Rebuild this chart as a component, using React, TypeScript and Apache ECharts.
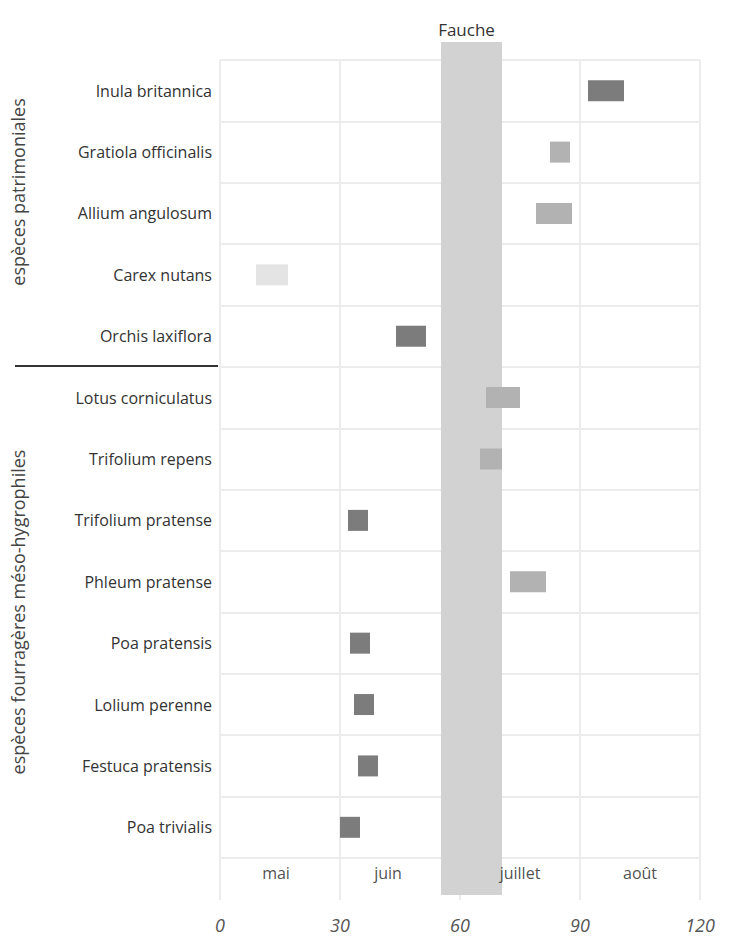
import React, { useEffect, useRef } from "react";
import * as echarts from "echarts";

const species = [
  "Inula britannica",
  "Gratiola officinalis",
  "Allium angulosum",
  "Carex nutans",
  "Orchis laxiflora",
  "Lotus corniculatus",
  "Trifolium repens",
  "Trifolium pratense",
  "Phleum pratense",
  "Poa pratensis",
  "Lolium perenne",
  "Festuca pratensis",
  "Poa trivialis",
];
const startDay = [92, 82.5, 79, 9, 44, 66.5, 65, 32, 72.5, 32.5, 33.5, 34.5, 30];
const spanDays = [9, 5, 9, 8, 7.5, 8.5, 5.5, 5, 9, 5, 5, 5, 5];
// intensity: 2 = dark, 1 = light, 0 = faint
const intensity = [2, 1, 1, 0, 2, 1, 1, 2, 1, 2, 2, 2, 2];
const months = ["mai", "juin", "juillet", "août"];
const monthPos = [14, 42, 75, 105];
const xTicks = [0, 30, 60, 90, 120];
const fauche = [55.25, 70.5];
const groups = ["espèces patrimoniales", "espèces fourragères méso-hygrophiles"];

const FONT = "'Open Sans', 'Noto Sans', sans-serif";
const shade = ["#e4e4e4", "#b2b2b2", "#7c7c7c"];

export default function App() {
  const ref = useRef<HTMLDivElement>(null);
  useEffect(() => {
    if (!ref.current) return;
    const chart = echarts.init(ref.current, null, { renderer: "svg" });
    const L = 220, W = 480;
    const gridLine = { show: true, lineStyle: { color: "#ececec", width: 2 } };
    chart.setOption({
      animation: false,
      backgroundColor: "#ffffff",
      grid: [
        { left: L, width: W, top: 60, height: 798 },
        { left: L, width: W, top: 858, height: 42 },
        { left: L, width: W, top: 42, height: 853 },
      ],
      xAxis: [
        {
          gridIndex: 0, type: "value", min: 0, max: 120, interval: 30,
          axisLabel: { show: false }, axisLine: { show: false }, axisTick: { show: false },
          splitLine: gridLine,
        },
        {
          gridIndex: 1, type: "value", min: 0, max: 120, interval: 30,
          axisLine: { show: false }, axisTick: { show: false },
          splitLine: gridLine,
          axisLabel: {
            show: true, margin: 16, color: "#555", fontSize: 18, fontStyle: "italic",
            fontFamily: FONT,
            formatter: (v: number) => (xTicks.includes(v) ? String(v) : ""),
          },
        },
        {
          gridIndex: 2, type: "value", min: 0, max: 120, show: false,
        },
      ],
      yAxis: [
        {
          gridIndex: 0, type: "category", data: species, inverse: true,
          axisLine: { show: false }, axisTick: { show: false },
          splitLine: gridLine,
          axisLabel: { color: "#333", fontSize: 16, margin: 8, fontFamily: FONT },
        },
        {
          gridIndex: 1, type: "category", data: ["mois"],
          axisLine: { show: false }, axisTick: { show: false },
          axisLabel: { show: false }, splitLine: { show: false },
        },
        { gridIndex: 2, type: "value", min: 0, max: 1, show: false },
      ],
      series: [
        {
          type: "custom",
          xAxisIndex: 2, yAxisIndex: 2, z: 1,
          data: [[fauche[0], fauche[1]]],
          renderItem: (params: any, api: any) => {
            const p0 = api.coord([api.value(0), 1]);
            const p1 = api.coord([api.value(1), 0]);
            return {
              type: "group",
              children: [
                {
                  type: "rect",
                  shape: { x: p0[0], y: p0[1], width: p1[0] - p0[0], height: p1[1] - p0[1] },
                  style: { fill: "#d2d2d2" },
                },
                {
                  type: "text",
                  x: (p0[0] + p1[0]) / 2 - 5, y: p0[1] - 13,
                  style: {
                    text: "Fauche", fill: "#333", fontSize: 17, fontFamily: FONT,
                    align: "center", verticalAlign: "middle",
                  },
                },
              ],
            };
          },
        },
        {
          type: "bar", stack: "t", xAxisIndex: 0, yAxisIndex: 0, barWidth: 21, z: 3,
          itemStyle: { color: "transparent" }, silent: true,
          data: startDay,
        },
        {
          type: "bar", stack: "t", xAxisIndex: 0, yAxisIndex: 0, barWidth: 21, z: 3,
          data: spanDays.map((v, i) => ({ value: v, itemStyle: { color: shade[intensity[i]] } })),
        },
        {
          type: "scatter", xAxisIndex: 1, yAxisIndex: 1, symbolSize: 0, z: 3,
          data: monthPos.map((v, i) => ({ value: [v, "mois"], name: months[i] })),
          label: {
            show: true, position: "top", distance: 0, offset: [0, 2],
            formatter: (p: any) => p.name,
            color: "#222", fontSize: 16, fontFamily: FONT,
          },
        },
      ],
      graphic: [
        {
          type: "line", shape: { x1: 15, y1: 366, x2: 218, y2: 366 },
          style: { stroke: "#333", lineWidth: 2 },
        },
        {
          type: "text", x: 18, y: 192, rotation: Math.PI / 2,
          style: {
            text: groups[0], fill: "#444", fontSize: 18, fontFamily: FONT,
            align: "center", verticalAlign: "middle",
          },
        },
        {
          type: "text", x: 18, y: 612, rotation: Math.PI / 2,
          style: {
            text: groups[1], fill: "#444", fontSize: 18, fontFamily: FONT,
            align: "center", verticalAlign: "middle",
          },
        },
      ],
    });
    return () => chart.dispose();
  }, []);
  return (
    <div
      ref={ref}
      style={{ position: "absolute", left: 0, top: 0, width: 729, height: 938 }}
    />
  );
}
